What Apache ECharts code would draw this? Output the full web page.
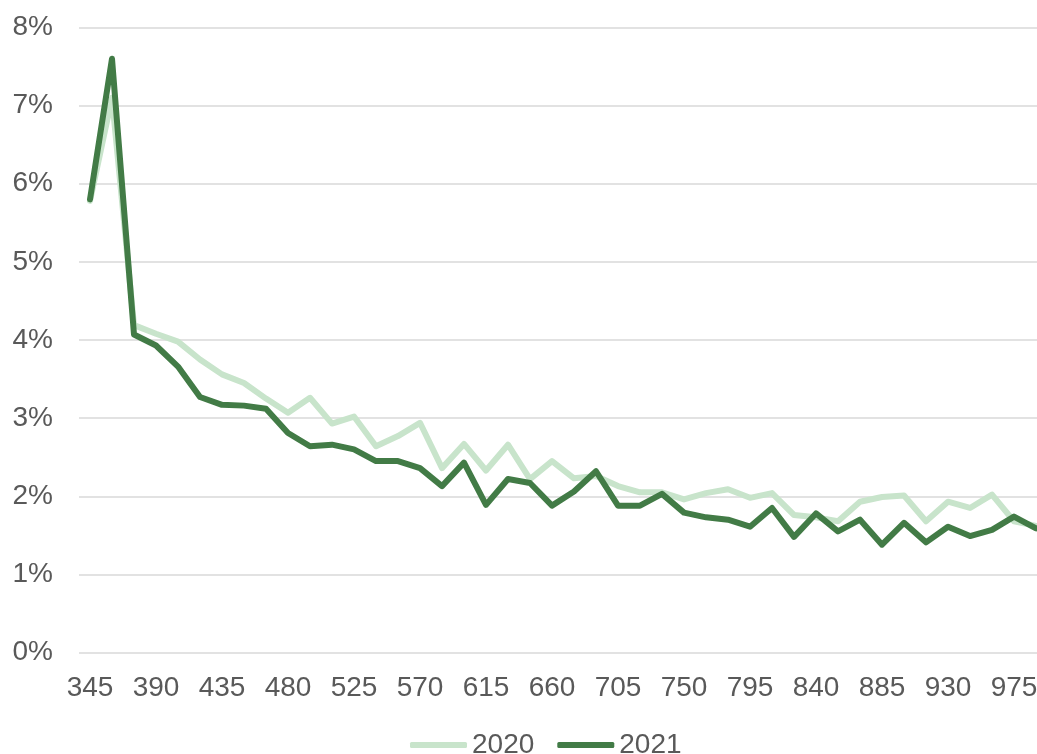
<!DOCTYPE html>
<html>
<head>
<meta charset="utf-8">
<title>2020 vs 2021</title>
<script src="https://cdn.jsdelivr.net/npm/echarts@6/dist/echarts.min.js"></script>
<style>
  html, body { margin: 0; padding: 0; background: #ffffff; }
  #chart { width: 1037px; height: 754px; }
</style>
</head>
<body>
<div id="chart"></div>
<script>
// Categories: 345 to 990 in steps of 15
const categories = [
  '345','360','375','390','405','420','435','450','465','480','495',
  '510','525','540','555','570','585','600','615','630','645','660',
  '675','690','705','720','735','750','765','780','795','810','825',
  '840','855','870','885','900','915','930','945','960','975','990'
];

// Share in percent, one value per category
const values2020 = [
  5.78, 7.10, 4.19, 4.08, 3.98, 3.75, 3.56, 3.45, 3.25, 3.07, 3.26,
  2.93, 3.02, 2.64, 2.77, 2.94, 2.36, 2.67, 2.33, 2.66, 2.22, 2.45,
  2.23, 2.26, 2.13, 2.05, 2.05, 1.96, 2.04, 2.09, 1.98, 2.04, 1.76,
  1.73, 1.68, 1.93, 1.99, 2.01, 1.68, 1.93, 1.85, 2.02, 1.68, 1.62
];

const values2021 = [
  5.80, 7.60, 4.07, 3.93, 3.66, 3.27, 3.17, 3.16, 3.12, 2.81, 2.64,
  2.66, 2.60, 2.45, 2.45, 2.36, 2.13, 2.43, 1.89, 2.22, 2.17, 1.88,
  2.06, 2.32, 1.88, 1.88, 2.03, 1.79, 1.73, 1.70, 1.61, 1.85, 1.48,
  1.78, 1.55, 1.70, 1.38, 1.66, 1.41, 1.61, 1.49, 1.57, 1.74, 1.59
];

const seriesNames = ['2020', '2021'];

const textColor = '#595959';
const fontFamily = 'Liberation Sans, Arial, sans-serif';

const chart = echarts.init(document.getElementById('chart'), null, { renderer: 'canvas' });

chart.setOption({
  animation: false,
  backgroundColor: '#ffffff',
  grid: {
    left: 79,
    top: 27.5,
    width: 968,
    height: 625,
    containLabel: false,
    outerBoundsMode: 'none'
  },
  legend: {
    data: seriesNames,
    left: 405,
    top: 726,
    itemWidth: 57,
    itemHeight: 6,
    itemGap: 23,
    icon: 'roundRect',
    textStyle: { color: textColor, fontSize: 28, fontFamily: fontFamily }
  },
  xAxis: {
    type: 'category',
    data: categories,
    boundaryGap: true,
    axisLine: { show: false },
    axisTick: { show: false },
    splitLine: { show: false },
    axisLabel: {
      interval: 2,
      margin: 22,
      color: textColor,
      fontSize: 28,
      fontFamily: fontFamily
    }
  },
  yAxis: {
    type: 'value',
    min: 0,
    max: 8,
    interval: 1,
    axisLine: { show: false },
    axisTick: { show: false },
    splitLine: { lineStyle: { color: '#d9d9d9', width: 1.5 } },
    axisLabel: {
      formatter: '{value}%',
      margin: 26,
      color: textColor,
      fontSize: 28,
      fontFamily: fontFamily
    }
  },
  series: [
    {
      name: seriesNames[0],
      type: 'line',
      data: values2020,
      showSymbol: false,
      symbol: 'none',
      color: '#c8e4cb',
      lineStyle: { width: 6, color: '#c8e4cb', cap: 'round', join: 'round' },
      z: 2
    },
    {
      name: seriesNames[1],
      type: 'line',
      data: values2021,
      showSymbol: false,
      symbol: 'none',
      color: '#427b46',
      lineStyle: { width: 6, color: '#427b46', cap: 'round', join: 'round' },
      z: 3
    }
  ]
});
</script>
</body>
</html>
